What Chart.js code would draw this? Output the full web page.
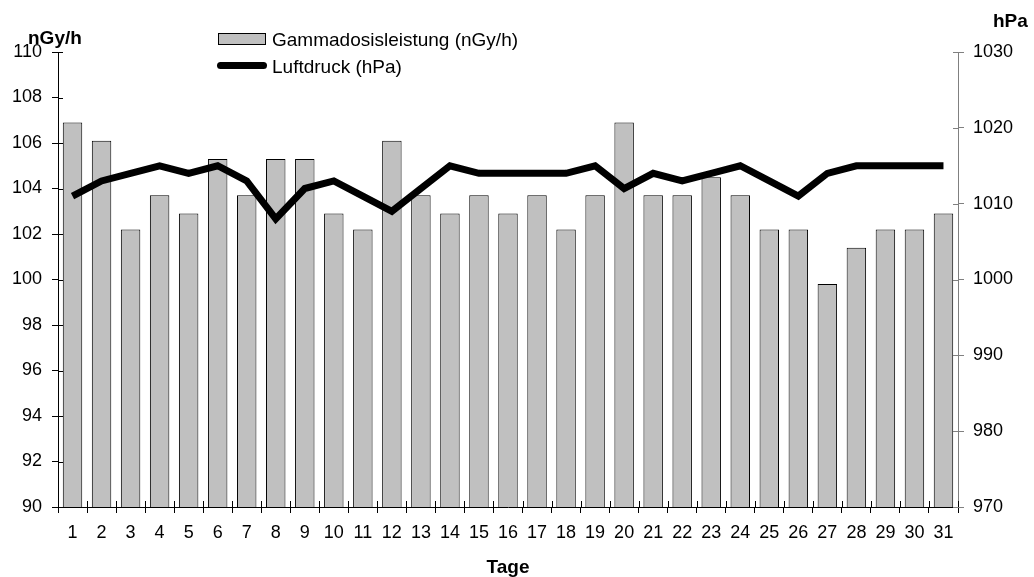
<!DOCTYPE html>
<html>
<head>
<meta charset="utf-8">
<script src="https://cdn.jsdelivr.net/npm/chart.js@4.4.0/dist/chart.umd.min.js"></script>
<style>
  html, body { margin:0; padding:0; background:#fff; }
  #wrap { position:relative; width:1034px; height:577px; font-family:"Liberation Sans", Arial, sans-serif; color:#000; }
  canvas { position:absolute; left:0; top:0; }
  .lbl { position:absolute; white-space:nowrap; line-height:1; }
  .bold { font-weight:bold; font-size:19px; }
  .leg { font-size:19px; }
</style>
</head>
<body>
<div id="wrap">
  <canvas id="c" width="1034" height="577"></canvas>
  <div class="lbl bold" id="tLeft" style="left:28px; top:28px;">nGy/h</div>
  <div class="lbl bold" id="tRight" style="left:993px; top:11px;">hPa</div>
  <div id="legend"></div>
</div>
<script>
const days = ["1","2","3","4","5","6","7","8","9","10","11","12","13","14","15","16","17","18","19","20","21","22","23","24","25","26","27","28","29","30","31"];
const gamma = [106.9,106.1,102.2,103.7,102.9,105.3,103.7,105.3,105.3,102.9,102.2,106.1,103.7,102.9,103.7,102.9,103.7,102.2,103.7,106.9,103.7,103.7,104.5,103.7,102.2,102.2,99.8,101.4,102.2,102.2,102.9];
const pressure = [1011,1013,1014,1015,1014,1015,1013,1008,1012,1013,1011,1009,1012,1015,1014,1014,1014,1014,1015,1012,1014,1013,1014,1015,1013,1011,1014,1015,1015,1015,1015];
const leftTicks = [90,92,94,96,98,100,102,104,106,108,110];
const rightTicks = [970,980,990,1000,1010,1020,1030];
const gammaLabel = "Gammadosisleistung (nGy/h)";
const pressureLabel = "Luftdruck (hPa)";
const xTitle = "Tage";

const FONT = "'Liberation Sans', Arial, sans-serif";

const crossTicks = {
  id: 'crossTicks',
  afterDraw(chart) {
    const ctx = chart.ctx;
    const a = chart.chartArea;
    ctx.save();
    ctx.lineWidth = 1;
    ctx.strokeStyle = '#000';
    const xs = chart.scales.x;
    for (let i = 0; i <= xs.ticks.length; i++) {
      const px = Math.round(xs.getPixelForValue(i - 0.5)) + 0.5;
      ctx.beginPath(); ctx.moveTo(px, a.bottom); ctx.lineTo(px, a.bottom - 6); ctx.stroke();
    }
    const ys = chart.scales.y;
    ys.ticks.forEach((t, i) => {
      const py = Math.round(ys.getPixelForTick(i)) + 0.5;
      ctx.beginPath(); ctx.moveTo(a.left, py); ctx.lineTo(a.left + 5, py); ctx.stroke();
    });
    ctx.strokeStyle = '#808080';
    const y1 = chart.scales.y1;
    y1.ticks.forEach((t, i) => {
      const py = Math.round(y1.getPixelForTick(i)) + 0.5;
      ctx.beginPath(); ctx.moveTo(a.right, py); ctx.lineTo(a.right - 5, py); ctx.stroke();
    });
    ctx.restore();
  }
};

const chart = new Chart(document.getElementById('c'), {
  type: 'bar',
  data: {
    labels: days,
    datasets: [
      {
        type: 'line',
        label: pressureLabel,
        data: pressure,
        yAxisID: 'y1',
        borderColor: '#000',
        backgroundColor: '#000',
        borderWidth: 7,
        pointRadius: 0,
        tension: 0,
        fill: false,
        order: 0
      },
      {
        type: 'bar',
        label: gammaLabel,
        data: gamma,
        yAxisID: 'y',
        backgroundColor: '#c0c0c0',
        borderColor: '#000',
        borderWidth: 1,
        categoryPercentage: 1,
        barPercentage: 0.67,
        order: 1
      }
    ]
  },
  options: {
    responsive: false,
    animation: false,
    layout: { padding: { top: 52, left: 0, right: 0, bottom: 0 } },
    plugins: { legend: { display: false }, tooltip: { enabled: false } },
    scales: {
      x: {
        offset: true,
        grid: { offset: true, drawOnChartArea: false, tickLength: 6, color: '#000' },
        border: { color: '#000', width: 1 },
        ticks: { color: '#000', font: { family: FONT, size: 18 }, padding: 9, maxRotation: 0, autoSkip: false },
        title: { display: true, text: xTitle, color: '#000', font: { family: FONT, size: 19, weight: 'bold', lineHeight: 1 }, padding: { top: 0, bottom: 0 } },
        afterFit(s) { s.height = 70; }
      },
      y: {
        position: 'left',
        min: leftTicks[0], max: leftTicks[leftTicks.length - 1],
        afterBuildTicks(s) { s.ticks = leftTicks.map(v => ({ value: v })); },
        grid: { drawOnChartArea: false, tickLength: 6, color: '#000' },
        border: { color: '#000', width: 1 },
        ticks: { color: '#000', font: { family: FONT, size: 18 }, padding: 10, callback: v => String(v) },
        afterFit(s) { s.width = 58; }
      },
      y1: {
        position: 'right',
        min: rightTicks[0], max: rightTicks[rightTicks.length - 1],
        afterBuildTicks(s) { s.ticks = rightTicks.map(v => ({ value: v })); },
        grid: { drawOnChartArea: false, tickLength: 6, color: '#808080' },
        border: { color: '#808080', width: 1 },
        ticks: { color: '#000', font: { family: FONT, size: 18 }, padding: 9, callback: v => String(v) },
        afterFit(s) { s.width = 76; }
      }
    }
  },
  plugins: [crossTicks]
});

// HTML legend built from the datasets
const leg = document.getElementById('legend');
const barDs = chart.data.datasets[1], lineDs = chart.data.datasets[0];
leg.innerHTML =
  '<div style="position:absolute;left:218px;top:33px;width:46px;height:10px;background:' + barDs.backgroundColor + ';border:1px solid #000;"></div>' +
  '<div class="lbl leg" style="left:272px;top:30px;">' + barDs.label + '</div>' +
  '<div style="position:absolute;left:217px;top:62px;width:50px;height:7px;border-radius:3.5px;background:' + lineDs.borderColor + ';"></div>' +
  '<div class="lbl leg" style="left:272px;top:57px;">' + lineDs.label + '</div>';
</script>
</body>
</html>
